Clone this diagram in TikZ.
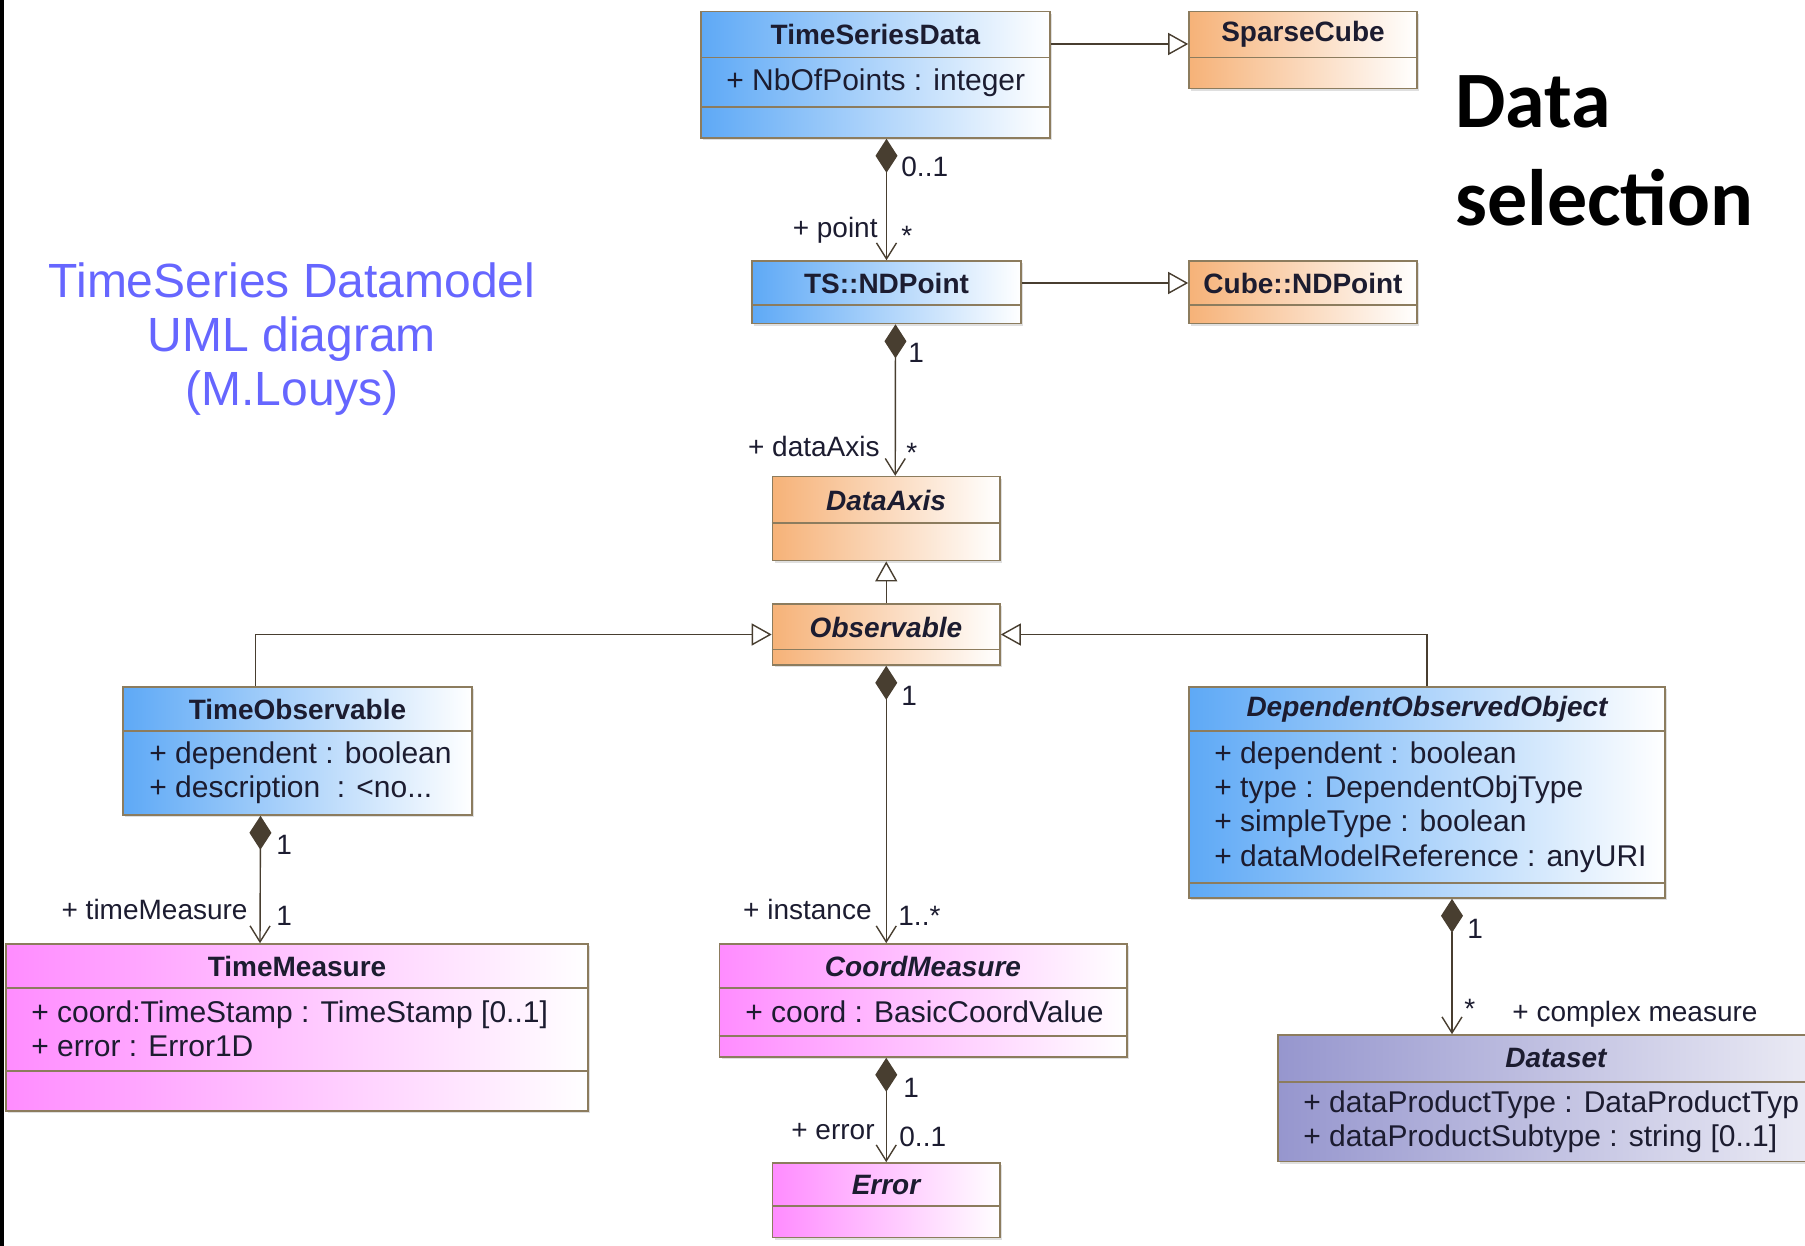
\documentclass[tikz,border=0pt]{standalone}
\usepackage{fontspec}
\setmainfont{Liberation Sans}
\newfontfamily\slidefont{Carlito}
\usepackage{tikz}
\usetikzlibrary{arrows.meta,positioning,calc,fit,shadows}

\definecolor{umlblue}{RGB}{94,169,246}
\definecolor{umlorange}{RGB}{246,178,120}
\definecolor{umlpink}{RGB}{255,140,255}
\definecolor{umllilac}{RGB}{150,150,206}
\definecolor{umlpale}{RGB}{238,238,246}
\definecolor{umlborder}{RGB}{140,124,94}
\definecolor{umlline}{RGB}{72,62,48}
\definecolor{umltext}{RGB}{28,28,48}
\definecolor{titleblue}{RGB}{102,102,255}

\begin{document}
\begin{tikzpicture}[x=0.5pt, y=-0.5pt,
  every node/.style={inner sep=0pt, text=umltext},
  cls/.style={rectangle, draw=umlborder, line width=0.8pt,
    drop shadow={shadow xshift=1.2pt, shadow yshift=-1.2pt, opacity=0.25}},
  bluecls/.style={cls, left color=umlblue, right color=white},
  orangecls/.style={cls, left color=umlorange, right color=white},
  pinkcls/.style={cls, left color=umlpink, right color=white},
  lilaccls/.style={cls, left color=umllilac, right color=umlpale},
  sep/.style={draw=umlborder, line width=0.8pt},
  ctitle/.style={font=\fontsize{14}{16}\selectfont\bfseries},
  ititle/.style={font=\fontsize{14}{16}\selectfont\bfseries\itshape},
  attr/.style={anchor=west, align=left, font=\fontsize{15}{17.2}\selectfont},
  mult/.style={font=\fontsize{14}{16}\selectfont, text height=10pt, text depth=0pt},
  comp/.style={draw=umlline, line width=0.7pt,
    {Diamond[length=17pt,width=11pt]}-{Straight Barb[length=8pt,width=10pt]}},
  gen/.style={draw=umlline, line width=0.7pt,
    -{Triangle[open,length=10pt,width=11pt,fill=white]}}
]
\useasboundingbox (0,0) rectangle (1805,1246);
\clip (0,0) rectangle (1805,1246);
\fill[black] (0,0) rectangle (4,1246);

% headings
\node[align=center, text=titleblue, font=\fontsize{24}{27}\selectfont] (title) at (292,339)
  {TimeSeries Datamodel\\UML diagram\\(M.Louys)};
\node[anchor=west, align=left, text=black, font=\slidefont\bfseries\fontsize{40}{49}\selectfont] (topic) at (1455,151)
  {Data\\selection};

% classes, top row
\node[bluecls, fit={(701,11.5) (1050,138)}] (tsd) {};
\draw[sep] (tsd.west |- 0,57.6) -- (tsd.east |- 0,57.6);
\draw[sep] (tsd.west |- 0,107) -- (tsd.east |- 0,107);
\node[ctitle] (tsd-name) at (875.5,34.5) {TimeSeriesData};
\node[attr] (tsd-attr) at (726,82.3) {+ NbOfPoints : integer};

\node[orangecls, fit={(1189,11.5) (1417,88.6)}] (cube) {};
\draw[sep] (cube.west |- 0,57.6) -- (cube.east |- 0,57.6);
\node[ctitle] (cube-name) at (1303,34.5) {SparseCube};

\node[bluecls, fit={(752,261) (1021,323.5)}] (tsnd) {};
\draw[sep] (tsnd.west |- 0,305) -- (tsnd.east |- 0,305);
\node[ctitle] (tsnd-name) at (886.5,283) {TS::NDPoint};

\node[orangecls, fit={(1189,261) (1417,323.5)}] (cubend) {};
\draw[sep] (cubend.west |- 0,305) -- (cubend.east |- 0,305);
\node[ctitle] (cubend-name) at (1303,283) {Cube::NDPoint};

\node[orangecls, fit={(772.5,476.6) (1000,560.6)}] (axis) {};
\draw[sep] (axis.west |- 0,523) -- (axis.east |- 0,523);
\node[ititle] (axis-name) at (886,500) {DataAxis};

\node[orangecls, fit={(772.5,604) (1000,665)}] (obs) {};
\draw[sep] (obs.west |- 0,649.5) -- (obs.east |- 0,649.5);
\node[ititle] (obs-name) at (886,627) {Observable};

% classes, lower part
\node[bluecls, fit={(123,687) (472,815)}] (tobs) {};
\draw[sep] (tobs.west |- 0,731) -- (tobs.east |- 0,731);
\node[ctitle] (tobs-name) at (297.5,709) {TimeObservable};
\node[attr] (tobs-attr) at (149,773) {+ dependent : boolean\\+ description\ \ : <no...};

\node[bluecls, fit={(1189,687) (1665,898)}] (dep) {};
\draw[sep] (dep.west |- 0,731) -- (dep.east |- 0,731);
\draw[sep] (dep.west |- 0,883) -- (dep.east |- 0,883);
\node[ititle] (dep-name) at (1427,709) {DependentObservedObject};
\node[attr] (dep-attr) at (1214,807) {+ dependent : boolean\\+ type : DependentObjType\\+ simpleType : boolean\\+ dataModelReference : anyURI};

\node[pinkcls, fit={(6,944) (588,1111)}] (tmeas) {};
\draw[sep] (tmeas.west |- 0,988) -- (tmeas.east |- 0,988);
\draw[sep] (tmeas.west |- 0,1071) -- (tmeas.east |- 0,1071);
\node[ctitle] (tmeas-name) at (297,966) {TimeMeasure};
\node[attr] (tmeas-attr) at (31,1029) {+ coord:TimeStamp : TimeStamp [0..1]\\+ error : Error1D};

\node[pinkcls, fit={(719.5,944) (1127,1057)}] (cmeas) {};
\draw[sep] (cmeas.west |- 0,988) -- (cmeas.east |- 0,988);
\draw[sep] (cmeas.west |- 0,1036) -- (cmeas.east |- 0,1036);
\node[ititle] (cmeas-name) at (923,966) {CoordMeasure};
\node[attr] (cmeas-attr) at (745,1012) {+ coord : BasicCoordValue};

\node[pinkcls, fit={(772.5,1163) (1000,1237.5)}] (err) {};
\draw[sep] (err.west |- 0,1206) -- (err.east |- 0,1206);
\node[ititle] (err-name) at (886,1184.5) {Error};

\node[lilaccls, fit={(1278,1035) (1834,1161.5)}] (dset) {};
\draw[sep] (dset.west |- 0,1082) -- (dset.east |- 0,1082);
\node[ititle] (dset-name) at (1556,1058) {Dataset};
\node[attr] (dset-attr) at (1303,1122) {+ dataProductType : DataProductTyp\\+ dataProductSubtype : string [0..1]};

% generalisations
\draw[gen] (tsd.east |- 0,44) -- (cube.west |- 0,44);
\draw[gen] (tsnd.east |- 0,283) -- (cubend.west |- 0,283);
\draw[gen] (obs.north) -- (axis.south);
\draw[gen] ($(tobs.north)+(-42,0)$) |- (obs.west);
\draw[gen] (dep.north) |- (obs.east);

% compositions
\draw[comp] (tsnd.north |- tsd.south) -- (tsnd.north);
\draw[comp] ($(tsnd.south)+(9,0)$) -- ($(axis.north)+(9,0)$);
\draw[comp] (obs.south) -- (obs.south |- cmeas.north);
\draw[comp] (err.north |- cmeas.south) -- (err.north);
\draw[comp] ($(tobs.south)+(-37,0)$) -- ($(tmeas.north)+(-37,0)$);
\draw[comp] ($(dep.south)+(25,0)$) -- ($(dep.south |- dset.north)+(25,0)$);

% role names and multiplicities
\node[mult, anchor=west] (m-tsd) at (901,167) {0..1};
\node[mult, anchor=east] (r-point) at (878,228) {+ point};
\node[mult, anchor=west] (m-point) at (901,236) {*};
\node[mult, anchor=west] (m-tsnd) at (908,353) {1};
\node[mult, anchor=east] (r-axis) at (880,446) {+ dataAxis};
\node[mult, anchor=west] (m-axis) at (906,452) {*};
\node[mult, anchor=west] (m-obs) at (901,695) {1};
\node[mult, anchor=east] (r-inst) at (872,909) {+ instance};
\node[mult, anchor=west] (m-inst) at (898,915) {1..*};
\node[mult, anchor=west] (m-cmeas) at (903,1087) {1};
\node[mult, anchor=east] (r-err) at (875,1129) {+ error};
\node[mult, anchor=west] (m-err) at (899,1136) {0..1};
\node[mult, anchor=west] (m-tobs) at (276,844) {1};
\node[mult, anchor=east] (r-tmeas) at (248,909) {+ timeMeasure};
\node[mult, anchor=west] (m-tmeas) at (276,915) {1};
\node[mult, anchor=west] (m-dep) at (1467,928) {1};
\node[mult, anchor=west] (m-dset) at (1464,1008) {*};
\node[mult, anchor=west] (r-dset) at (1512,1011) {+ complex measure};
\end{tikzpicture}
\end{document}
